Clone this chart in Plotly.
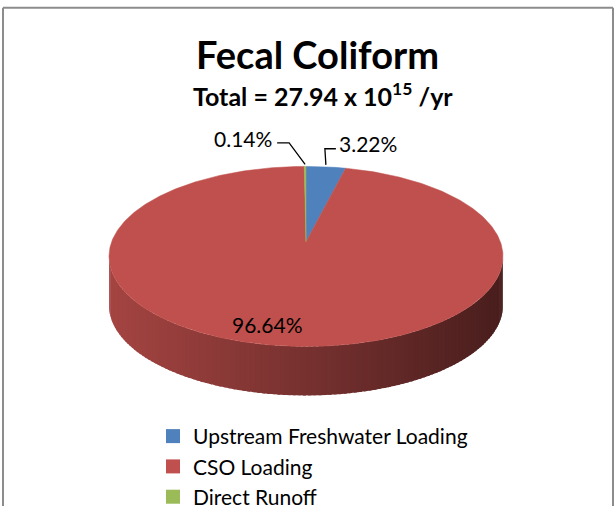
import numpy as np
import plotly.graph_objects as go

# ---- data ----
categories = ["Upstream Freshwater Loading", "CSO Loading", "Direct Runoff"]
shares = [3.22, 96.64, 0.14]          # percent of total
colors = ["#4F81BD", "#C0504D", "#9BBB59"]
title_text = "<b>Fecal Coliform</b>"
subtitle_text = "<b>Total = 27.94 x 10<sup>15</sup> /yr</b>"

# ---- geometry / style ----
W, H = 616, 517
CX, CY, RX, RY, DEPTH = 306, 262, 197, 92, 50
APEX_DY = -15
FONT = "Lato"


def ell(phi_deg, dy=0.0, r=1.0):
    p = np.radians(phi_deg)
    return CX + r * RX * np.sin(p), CY - r * RY * np.cos(p) + dy


def hex2rgb(h):
    h = h.lstrip("#")
    return tuple(int(h[i:i + 2], 16) for i in (0, 2, 4))


fig = go.Figure()

total = sum(shares)
starts, ends = [], []
acc = 0.0
for v in shares:
    starts.append(acc / total * 360)
    acc += v
    ends.append(acc / total * 360)

# side (front half of the cylinder wall), shaded left->right
for cat, col, a0, a1 in zip(categories, colors, starts, ends):
    lo, hi = max(a0, 90), min(a1, 270)
    if hi <= lo:
        continue
    base = hex2rgb(col)
    n = max(1, int(np.ceil((hi - lo) / 1.5)))
    edges = np.linspace(lo, hi, n + 1)
    step = edges[1] - edges[0]
    for e0, e1 in zip(edges[:-1], edges[1:]):
        e1x = min(hi, e1 + 0.6 * step)   # overlap next strip to hide seams
        ph = np.linspace(e0, e1x, 5)
        xt, yt = ell(ph)
        xb, yb = ell(ph[::-1], DEPTH)
        xs = np.concatenate([xt, xb, xt[:1]])
        ys = np.concatenate([yt, yb, yt[:1]])
        xm = ell((e0 + e1) / 2)[0]
        t = (xm - (CX - RX)) / (2 * RX)
        f = 0.86 - 0.48 * t
        c = "rgb(%d,%d,%d)" % tuple(int(ch * f) for ch in base)
        fig.add_trace(go.Scatter(x=xs, y=ys, mode="lines", fill="toself",
                                 fillcolor=c, line=dict(width=0),
                                 hoverinfo="skip", showlegend=False))

# top surface slices
for cat, col, a0, a1, v in zip(categories, colors, starts, ends, shares):
    ph = np.linspace(a0, a1, max(3, int((a1 - a0) * 2)))
    xa, ya = ell(ph)
    ax_, ay_ = CX, CY + APEX_DY
    xs = np.concatenate([[ax_], xa, [ax_]])
    ys = np.concatenate([[ay_], ya, [ay_]])
    fig.add_trace(go.Scatter(x=xs, y=ys, mode="lines", fill="toself",
                             fillcolor=col, line=dict(color=col, width=0.5),
                             name=cat, hoverinfo="name", showlegend=False))

# legend entries
for cat, col in zip(categories, colors):
    fig.add_trace(go.Scatter(x=[None], y=[None], mode="markers", name=cat,
                             marker=dict(symbol="square", size=14, color=col)))

# data labels
lab_font = dict(family=FONT, size=21, color="#000")
for cat, a0, a1, v in zip(categories, starts, ends, shares):
    mid = (a0 + a1) / 2
    txt = f"{v:.2f}%"
    if a1 - a0 > 30:
        x, y = ell(mid, r=0.7)
        fig.add_annotation(x=x - 25, y=y + 5, text=txt, showarrow=False,
                           font=lab_font, xanchor="center", yanchor="middle")
    else:
        ex, ey = ell(mid)
        if mid > 180:   # left of top
            bx, by = ex - 16, 146
            hx = bx - 12
            fig.add_annotation(x=hx - 3, y=by - 4, text=txt, showarrow=False,
                               font=lab_font, xanchor="right", yanchor="middle")
        else:
            bx, by = ex - 1, 152
            hx = bx + 11
            fig.add_annotation(x=hx + 1, y=by - 5, text=txt, showarrow=False,
                               font=lab_font, xanchor="left", yanchor="middle")
        fig.add_trace(go.Scatter(x=[ex, bx, hx], y=[ey - 2, by, by], mode="lines",
                                 line=dict(color="#000", width=1.3),
                                 hoverinfo="skip", showlegend=False))

# titles
fig.add_annotation(x=317, y=55, text=title_text, showarrow=False,
                   font=dict(family=FONT, size=38, color="#000"),
                   xanchor="center", yanchor="middle")
fig.add_annotation(x=323, y=97, text=subtitle_text, showarrow=False,
                   font=dict(family=FONT, size=25, color="#000"),
                   xanchor="center", yanchor="middle")

# chart frame
for x0, y0, x1, y1 in [(3, 8, 3, H), (3, 8, 613, 8), (613, 8, 613, H)]:
    fig.add_shape(type="line", x0=x0, y0=y0, x1=x1, y1=y1, xref="x", yref="y",
                  line=dict(color="#8c8c8c", width=2))

fig.update_layout(
    width=W, height=H, margin=dict(l=0, r=0, t=0, b=0),
    paper_bgcolor="white", plot_bgcolor="white",
    xaxis=dict(range=[0, W], visible=False, fixedrange=True),
    yaxis=dict(range=[H, 0], visible=False, fixedrange=True),
    showlegend=True,
    legend=dict(x=153 / W, y=1 - 425 / H, xanchor="left", yanchor="top",
                font=dict(family=FONT, size=21, color="#000"),
                bgcolor="rgba(0,0,0,0)", tracegroupgap=0, itemwidth=30),
)

fig.write_html("out.html")
